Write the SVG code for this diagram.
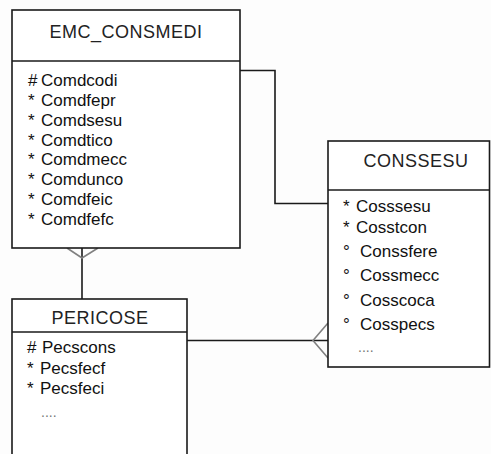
<svg xmlns="http://www.w3.org/2000/svg" width="491" height="454" viewBox="0 0 491 454">
<style>
.box{fill:#ffffff;stroke:#1a1a1a;stroke-width:1.6}
.div{stroke:#1a1a1a;stroke-width:1.6}
.title{font-family:"Liberation Sans",Arial,sans-serif;font-size:18px;fill:#222;letter-spacing:0.5px}
.attr{font-family:"Liberation Sans",Arial,sans-serif;font-size:17px;fill:#111}
.dots{font-family:"Liberation Sans",Arial,sans-serif;font-size:14px;fill:#777}
.line{fill:none;stroke:#1a1a1a;stroke-width:1.6}
.crow{fill:none;stroke:#808080;stroke-width:1.6}
</style>
<rect width="491" height="454" fill="#fdfdfd"/>
<g id="connectors">
<polyline class="line" points="240,70.5 275,70.5 275,203.5 328,203.5"/>
<line class="line" x1="82" y1="248" x2="82" y2="299"/>
<polyline class="crow" points="67,248 82,258 98,248"/>
<line class="line" x1="187" y1="340.5" x2="328" y2="340.5"/>
<polyline class="crow" points="328,323 313,340.5 328,358"/>
</g>
<g id="EMC_CONSMEDI">
<rect class="box" x="12" y="10" width="228" height="238"/>
<line class="div" x1="12" y1="61" x2="240" y2="61"/>
<text class="title" x="126" y="38" text-anchor="middle">EMC_CONSMEDI</text>
<text class="attr" x="28" y="86">#</text><text class="attr" x="41" y="86">Comdcodi</text>
<text class="attr" x="28" y="106">*</text><text class="attr" x="41" y="106">Comdfepr</text>
<text class="attr" x="28" y="126">*</text><text class="attr" x="41" y="126">Comdsesu</text>
<text class="attr" x="28" y="146">*</text><text class="attr" x="41" y="146">Comdtico</text>
<text class="attr" x="28" y="165">*</text><text class="attr" x="41" y="165">Comdmecc</text>
<text class="attr" x="28" y="185">*</text><text class="attr" x="41" y="185">Comdunco</text>
<text class="attr" x="28" y="205">*</text><text class="attr" x="41" y="205">Comdfeic</text>
<text class="attr" x="28" y="225">*</text><text class="attr" x="41" y="225">Comdfefc</text>
</g>
<g id="CONSSESU">
<rect class="box" x="328" y="141" width="161.5" height="226"/>
<line class="div" x1="328" y1="190" x2="490" y2="190"/>
<text class="title" x="416" y="167" text-anchor="middle">CONSSESU</text>
<text class="attr" x="343" y="212">*</text><text class="attr" x="356" y="212">Cosssesu</text>
<text class="attr" x="343" y="233">*</text><text class="attr" x="356" y="233">Cosstcon</text>
<text class="attr" x="343" y="257">°</text><text class="attr" x="360" y="257">Conssfere</text>
<text class="attr" x="343" y="281">°</text><text class="attr" x="360" y="281">Cossmecc</text>
<text class="attr" x="343" y="306">°</text><text class="attr" x="360" y="306">Cosscoca</text>
<text class="attr" x="343" y="330">°</text><text class="attr" x="360" y="330">Cosspecs</text>
<text class="dots" x="358" y="352">....</text>
</g>
<g id="PERICOSE">
<rect class="box" x="12" y="299" width="175" height="170"/>
<line class="div" x1="12" y1="332" x2="187" y2="332"/>
<text class="title" x="100" y="324" text-anchor="middle">PERICOSE</text>
<text class="attr" x="27" y="353">#</text><text class="attr" x="42" y="353">Pecscons</text>
<text class="attr" x="27" y="374">*</text><text class="attr" x="40" y="374">Pecsfecf</text>
<text class="attr" x="27" y="394">*</text><text class="attr" x="40" y="394">Pecsfeci</text>
<text class="dots" x="41" y="417">....</text>
</g>
</svg>
